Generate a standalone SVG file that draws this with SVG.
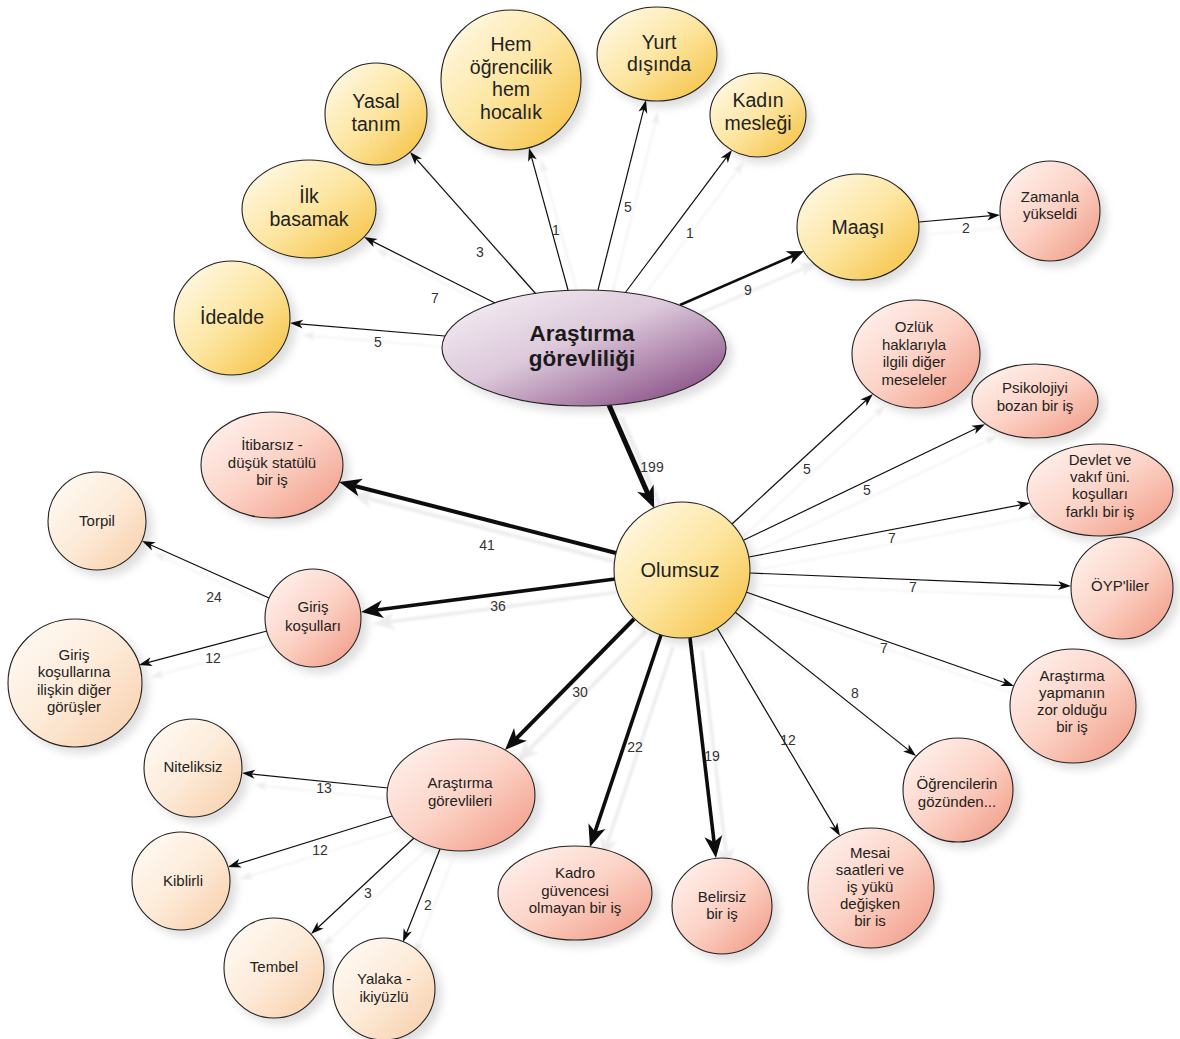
<svg xmlns="http://www.w3.org/2000/svg" width="1180" height="1039" viewBox="0 0 1180 1039">
<defs>
<linearGradient id="gY" x1="0" y1="0" x2="1" y2="1"><stop offset="0" stop-color="#fffcf2"/><stop offset="0.5" stop-color="#fde6a2"/><stop offset="1" stop-color="#f4bd38"/></linearGradient>
<linearGradient id="gP" x1="0" y1="0" x2="1" y2="1"><stop offset="0" stop-color="#fff6f3"/><stop offset="0.5" stop-color="#fcd3c6"/><stop offset="1" stop-color="#f09580"/></linearGradient>
<linearGradient id="gC" x1="0" y1="0" x2="1" y2="1"><stop offset="0" stop-color="#fffdf9"/><stop offset="0.5" stop-color="#fdebd9"/><stop offset="1" stop-color="#f7cca6"/></linearGradient>
<linearGradient id="gV" x1="0" y1="0" x2="1" y2="1"><stop offset="0" stop-color="#f8f4f8"/><stop offset="0.45" stop-color="#dcc8da"/><stop offset="1" stop-color="#7a3977"/></linearGradient>
<filter id="ns" x="-20%" y="-20%" width="150%" height="150%"><feDropShadow dx="6" dy="6" stdDeviation="4" flood-color="#000" flood-opacity="0.13"/></filter>
<filter id="es" x="-10%" y="-10%" width="130%" height="130%"><feOffset in="SourceAlpha" dx="12" dy="12" result="o"/><feGaussianBlur in="o" stdDeviation="0.8" result="b"/><feFlood flood-color="#000" flood-opacity="0.07"/><feComposite in2="b" operator="in" result="s"/><feMerge><feMergeNode in="s"/><feMergeNode in="SourceGraphic"/></feMerge></filter>
<marker id="aT" markerUnits="userSpaceOnUse" markerWidth="13" markerHeight="9" refX="10" refY="4.5" orient="auto" overflow="visible"><path d="M0,0 L13,4.5 L0,9 L3.5,4.5 z" fill="#111"/></marker>
<marker id="aM" markerUnits="userSpaceOnUse" markerWidth="17" markerHeight="14" refX="12" refY="7" orient="auto" overflow="visible"><path d="M0,0 L17,7 L0,14 L5,7 z" fill="#111"/></marker>
<marker id="aB" markerUnits="userSpaceOnUse" markerWidth="22" markerHeight="18" refX="14" refY="9" orient="auto" overflow="visible"><path d="M0,0 L22,9 L0,18 L6,9 z" fill="#111"/></marker>
</defs>
<style>
.n ellipse{stroke:#222;stroke-width:1.1;filter:url(#ns)}
.y ellipse{fill:url(#gY)}
.p ellipse{fill:url(#gP)}
.c ellipse{fill:url(#gC)}
.v ellipse{fill:url(#gV)}
text{font-family:"Liberation Sans",Arial,sans-serif;fill:#222;text-anchor:middle}
.y text{font-size:19.5px}
.p text,.c text{font-size:15px}
.v text{font-size:22.5px;font-weight:bold;fill:#1a1a1a}
.e line{stroke:#111;fill:none}
.t{stroke-width:1.2;marker-end:url(#aT)}
.m{stroke-width:2.6;marker-end:url(#aM)}
.b{stroke-width:4;marker-end:url(#aB)}
.lb text{font-size:14px;fill:#333}
</style>
<g id="connectors" class="e" filter="url(#es)">
<line class="t" x1="445" y1="336" x2="293" y2="323.3"/>
<line class="t" x1="495" y1="303" x2="366.7" y2="238.4"/>
<line class="t" x1="536" y1="294" x2="412" y2="154.2"/>
<line class="t" x1="568" y1="290" x2="529.8" y2="150.9"/>
<line class="t" x1="598" y1="290" x2="645.3" y2="102.9"/>
<line class="t" x1="625" y1="293" x2="730.2" y2="152.4"/>
<line class="m" x1="680" y1="305" x2="799.4" y2="253"/>
<line class="t" x1="919" y1="222" x2="997" y2="215.2"/>
<line class="b" style="stroke-width:5" x1="609" y1="405" x2="651" y2="501"/>
<line class="b" x1="616" y1="553" x2="347" y2="484"/>
<line class="b" style="stroke-width:3.6" x1="615" y1="579" x2="369" y2="611"/>
<line class="t" x1="269" y1="598" x2="144.7" y2="542.2"/>
<line class="t" x1="267" y1="631" x2="141.9" y2="664.2"/>
<line class="b" x1="634" y1="619" x2="510.6" y2="744.3"/>
<line class="t" x1="388" y1="788" x2="245" y2="773.3"/>
<line class="t" x1="392" y1="816" x2="230.9" y2="866.1"/>
<line class="t" x1="414" y1="838" x2="313.2" y2="932"/>
<line class="t" x1="440" y1="849" x2="404.1" y2="939.2"/>
<line class="b" style="stroke-width:3.6" x1="661" y1="635" x2="592.5" y2="839.4"/>
<line class="b" style="stroke-width:3.6" x1="690" y1="638" x2="715" y2="850"/>
<line class="t" x1="717" y1="628" x2="838.5" y2="833.4"/>
<line class="t" x1="735" y1="612" x2="913.7" y2="754.1"/>
<line class="t" x1="746" y1="592" x2="1011.2" y2="685"/>
<line class="t" x1="750" y1="573" x2="1068" y2="585.9"/>
<line class="t" x1="749" y1="557" x2="1027.1" y2="503.6"/>
<line class="t" x1="744" y1="540" x2="982.3" y2="425.5"/>
<line class="t" x1="732" y1="524" x2="870.8" y2="396"/>
</g>
<g id="edge-labels" class="lb">
<text x="378" y="347">5</text>
<text x="435" y="303">7</text>
<text x="480" y="257">3</text>
<text x="556" y="235">1</text>
<text x="628" y="212">5</text>
<text x="690" y="238">1</text>
<text x="748" y="295">9</text>
<text x="966" y="233">2</text>
<text x="652" y="472">199</text>
<text x="487" y="550">41</text>
<text x="498" y="611">36</text>
<text x="214" y="602">24</text>
<text x="213" y="663">12</text>
<text x="580" y="697">30</text>
<text x="324" y="793">13</text>
<text x="320" y="855">12</text>
<text x="368" y="898">3</text>
<text x="428" y="910">2</text>
<text x="635" y="752">22</text>
<text x="712" y="761">19</text>
<text x="788" y="745">12</text>
<text x="855" y="698">8</text>
<text x="884" y="653">7</text>
<text x="913" y="592">7</text>
<text x="892" y="543">7</text>
<text x="867" y="495">5</text>
<text x="807" y="474">5</text>
</g>
<g id="n-central" class="n v"><ellipse cx="584" cy="348" rx="142" ry="58"/><text x="582" y="341">Araştırma</text><text x="582" y="366">görevliliği</text></g>
<g id="n-idealde" class="n y"><ellipse cx="232" cy="318" rx="58" ry="57"/><text x="232" y="324">İdealde</text></g>
<g id="n-ilk" class="n y"><ellipse cx="309" cy="209" rx="67" ry="49"/><text x="309" y="203">İlk</text><text x="309" y="226">basamak</text></g>
<g id="n-yasal" class="n y"><ellipse cx="376" cy="114" rx="51" ry="51"/><text x="376" y="108">Yasal</text><text x="376" y="131">tanım</text></g>
<g id="n-hem" class="n y"><ellipse cx="511" cy="80" rx="70" ry="70"/><text x="511" y="51">Hem</text><text x="511" y="73.5">öğrencilik</text><text x="511" y="96">hem</text><text x="511" y="118.5">hocalık</text></g>
<g id="n-yurt" class="n y"><ellipse cx="657" cy="54" rx="60" ry="47"/><text x="659" y="49">Yurt</text><text x="659" y="71">dışında</text></g>
<g id="n-kadin" class="n y"><ellipse cx="758" cy="115" rx="48" ry="42"/><text x="758" y="107">Kadın</text><text x="758" y="130">mesleği</text></g>
<g id="n-maasi" class="n y"><ellipse cx="858" cy="227" rx="61" ry="53"/><text x="858" y="234">Maaşı</text></g>
<g id="n-zamanla" class="n p"><ellipse cx="1050" cy="211" rx="50" ry="50"/><text x="1050" y="202">Zamanla</text><text x="1050" y="219">yükseldi</text></g>
<g id="n-olumsuz" class="n y"><ellipse cx="682" cy="570" rx="68" ry="68"/><text x="680" y="577" style="font-size:20px">Olumsuz</text></g>
<g id="n-ozluk" class="n p"><ellipse cx="916" cy="354" rx="64" ry="54"/><text x="914" y="332">Ozlük</text><text x="914" y="350">haklarıyla</text><text x="914" y="367">ilgili diğer</text><text x="914" y="385">meseleler</text></g>
<g id="n-psiko" class="n p"><ellipse cx="1035" cy="401" rx="63" ry="37"/><text x="1035" y="393">Psikolojiyi</text><text x="1035" y="411">bozan bir iş</text></g>
<g id="n-devlet" class="n p"><ellipse cx="1100" cy="490" rx="73" ry="46"/><text x="1100" y="465">Devlet ve</text><text x="1100" y="482">vakıf üni.</text><text x="1100" y="499">koşulları</text><text x="1100" y="517">farklı bir iş</text></g>
<g id="n-oyp" class="n p"><ellipse cx="1122" cy="588" rx="51" ry="51"/><text x="1120" y="591">ÖYP'liler</text></g>
<g id="n-zor" class="n p"><ellipse cx="1073" cy="706" rx="63" ry="57"/><text x="1072" y="681">Araştırma</text><text x="1072" y="698">yapmanın</text><text x="1072" y="715">zor olduğu</text><text x="1072" y="732">bir iş</text></g>
<g id="n-ogrenci" class="n p"><ellipse cx="958" cy="790" rx="55" ry="52"/><text x="957" y="789">Öğrencilerin</text><text x="957" y="807">gözünden...</text></g>
<g id="n-mesai" class="n p"><ellipse cx="871" cy="888" rx="63" ry="60"/><text x="870" y="858">Mesai</text><text x="870" y="875">saatleri ve</text><text x="870" y="892">iş yükü</text><text x="870" y="909">değişken</text><text x="870" y="926">bir is</text></g>
<g id="n-belirsiz" class="n p"><ellipse cx="722" cy="906" rx="50" ry="48"/><text x="722" y="902">Belirsiz</text><text x="722" y="919">bir iş</text></g>
<g id="n-kadro" class="n p"><ellipse cx="575" cy="893" rx="77" ry="47"/><text x="575" y="878">Kadro</text><text x="575" y="896">güvencesi</text><text x="575" y="913">olmayan bir iş</text></g>
<g id="n-arsgor" class="n p"><ellipse cx="461" cy="795" rx="74" ry="56"/><text x="460" y="788">Araştırma</text><text x="460" y="806">görevlileri</text></g>
<g id="n-nitelik" class="n c"><ellipse cx="193" cy="768" rx="49" ry="49"/><text x="193" y="772">Niteliksiz</text></g>
<g id="n-kibir" class="n c"><ellipse cx="181" cy="881" rx="49" ry="49"/><text x="183" y="886">Kiblirli</text></g>
<g id="n-tembel" class="n c"><ellipse cx="274" cy="968" rx="50" ry="50"/><text x="274" y="972">Tembel</text></g>
<g id="n-yalaka" class="n c"><ellipse cx="384" cy="989" rx="51" ry="51"/><text x="384" y="984">Yalaka -</text><text x="384" y="1002">ikiyüzlü</text></g>
<g id="n-itibar" class="n p"><ellipse cx="272" cy="465" rx="71" ry="53"/><text x="272" y="450">İtibarsız -</text><text x="272" y="468">düşük statülü</text><text x="272" y="485">bir iş</text></g>
<g id="n-torpil" class="n c"><ellipse cx="97" cy="521" rx="49" ry="49"/><text x="97" y="526">Torpil</text></g>
<g id="n-giris" class="n p"><ellipse cx="313" cy="618" rx="48" ry="49"/><text x="313" y="612">Giriş</text><text x="313" y="631">koşulları</text></g>
<g id="n-girisdiger" class="n c"><ellipse cx="75" cy="683" rx="67" ry="64"/><text x="74" y="660">Giriş</text><text x="74" y="677">koşullarına</text><text x="74" y="695">ilişkin diğer</text><text x="74" y="712">görüşler</text></g>
</svg>
